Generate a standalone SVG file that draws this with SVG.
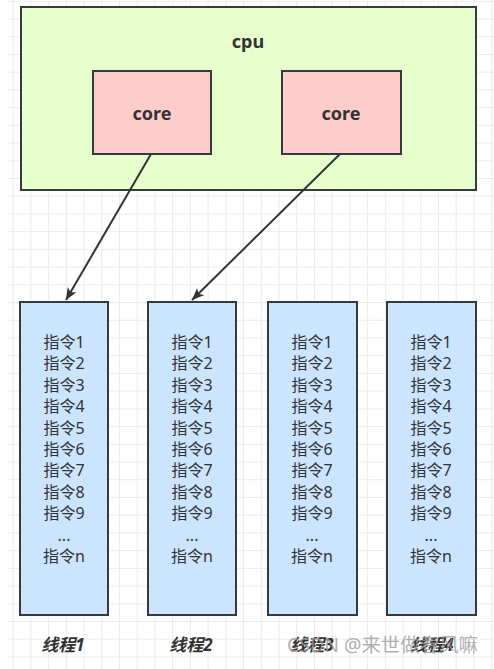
<svg xmlns="http://www.w3.org/2000/svg" width="494" height="669" viewBox="0 0 494 669">
<style>
.bx{stroke:#36393d;stroke-width:2}
.cpu{fill:#e6ffcc}
.core{fill:#ffcccc}
.th{fill:#cce5ff}
.t{font-family:"Noto Sans","Noto Sans CJK SC",sans-serif;fill:#333;text-anchor:middle}
.b{font-weight:bold;font-size:18px}
.ins{font-size:16px}
.lab{font-weight:bold;font-style:italic;font-size:17px}
.cn{stroke:#333;stroke-width:2;fill:none}
.grid{stroke:#ebebeb;stroke-width:1}
</style>
<defs>
<marker id="arr" markerUnits="userSpaceOnUse" markerWidth="14" markerHeight="12" refX="12" refY="5" orient="auto">
<path d="M0,0 L12,5 L0,10 L3,5 z" fill="#333"/>
</marker>
<pattern id="gp" patternUnits="userSpaceOnUse" x="12.7" y="0.8" width="17.72" height="17.72">
<path d="M0.5,0 V17.72 M0,0.5 H17.72" class="grid"/>
</pattern>
</defs>
<rect width="494" height="669" fill="#fff"/>
<rect x="7" y="0" width="487" height="669" fill="url(#gp)"/>
<g id="cpu">
<rect class="bx cpu" x="21" y="7" width="455" height="183"/>
<text class="t b" x="248" y="48">cpu</text>
</g>
<g id="core1">
<rect class="bx core" x="93" y="71" width="118" height="83"/>
<text class="t b" x="152" y="120">core</text>
</g>
<g id="core2">
<rect class="bx core" x="282" y="71" width="119" height="83"/>
<text class="t b" x="341" y="120">core</text>
</g>
<g id="thread1">
<rect class="bx th" x="20" y="302" width="88" height="313"/>
<text class="t ins" x="64" y="348"><tspan x="64">指令1</tspan><tspan x="64" dy="21.4">指令2</tspan><tspan x="64" dy="21.4">指令3</tspan><tspan x="64" dy="21.4">指令4</tspan><tspan x="64" dy="21.4">指令5</tspan><tspan x="64" dy="21.4">指令6</tspan><tspan x="64" dy="21.4">指令7</tspan><tspan x="64" dy="21.4">指令8</tspan><tspan x="64" dy="21.4">指令9</tspan><tspan x="64" dy="21.4">...</tspan><tspan x="64" dy="21.4">指令n</tspan></text>
<text class="t lab" x="63" y="651">线程1</text>
</g>
<g id="thread2">
<rect class="bx th" x="148" y="302" width="88" height="313"/>
<text class="t ins" x="192" y="348"><tspan x="192">指令1</tspan><tspan x="192" dy="21.4">指令2</tspan><tspan x="192" dy="21.4">指令3</tspan><tspan x="192" dy="21.4">指令4</tspan><tspan x="192" dy="21.4">指令5</tspan><tspan x="192" dy="21.4">指令6</tspan><tspan x="192" dy="21.4">指令7</tspan><tspan x="192" dy="21.4">指令8</tspan><tspan x="192" dy="21.4">指令9</tspan><tspan x="192" dy="21.4">...</tspan><tspan x="192" dy="21.4">指令n</tspan></text>
<text class="t lab" x="191" y="651">线程2</text>
</g>
<g id="thread3">
<rect class="bx th" x="268" y="302" width="89" height="313"/>
<text class="t ins" x="312" y="348"><tspan x="312">指令1</tspan><tspan x="312" dy="21.4">指令2</tspan><tspan x="312" dy="21.4">指令3</tspan><tspan x="312" dy="21.4">指令4</tspan><tspan x="312" dy="21.4">指令5</tspan><tspan x="312" dy="21.4">指令6</tspan><tspan x="312" dy="21.4">指令7</tspan><tspan x="312" dy="21.4">指令8</tspan><tspan x="312" dy="21.4">指令9</tspan><tspan x="312" dy="21.4">...</tspan><tspan x="312" dy="21.4">指令n</tspan></text>
<text class="t lab" x="312" y="651">线程3</text>
</g>
<g id="thread4">
<rect class="bx th" x="387" y="302" width="89" height="313"/>
<text class="t ins" x="431" y="348"><tspan x="431">指令1</tspan><tspan x="431" dy="21.4">指令2</tspan><tspan x="431" dy="21.4">指令3</tspan><tspan x="431" dy="21.4">指令4</tspan><tspan x="431" dy="21.4">指令5</tspan><tspan x="431" dy="21.4">指令6</tspan><tspan x="431" dy="21.4">指令7</tspan><tspan x="431" dy="21.4">指令8</tspan><tspan x="431" dy="21.4">指令9</tspan><tspan x="431" dy="21.4">...</tspan><tspan x="431" dy="21.4">指令n</tspan></text>
<text class="t lab" x="432" y="651">线程4</text>
</g>
<g id="connectors">
<path class="cn" d="M151,154 L66,300" marker-end="url(#arr)"/>
<path class="cn" d="M340,154 L192,300" marker-end="url(#arr)"/>
</g>
<text x="287" y="652" font-family="'Noto Sans','Noto Sans CJK SC',sans-serif" font-size="19" fill="#9a9a9a" fill-opacity="0.8" textLength="191" lengthAdjust="spacingAndGlyphs">CSDN @来世做春风嘛</text>
</svg>
